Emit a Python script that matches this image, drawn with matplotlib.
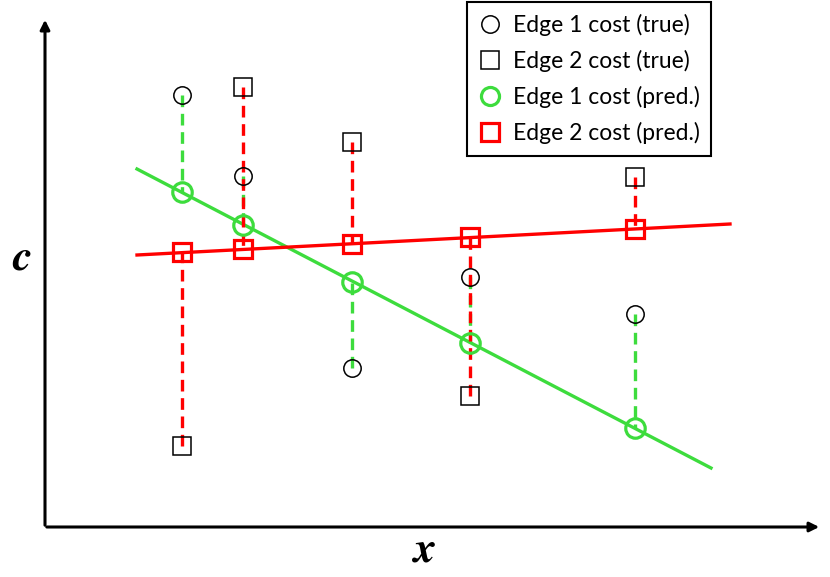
import matplotlib.pyplot as plt
from matplotlib.lines import Line2D

xs = [182, 243, 352, 470, 635]
edge1_true = [482, 401, 209, 300, 263]
edge2_true = [131, 490, 435, 181, 400]
edge1_pred = [385, 352, 295, 234, 149]
edge2_pred = [325, 328, 333, 340, 348]

# fitted lines (end points)
green_x = [137, 711]
green_y = [408, 109]
red_x = [137, 730]
red_y = [322, 353]

green = '#3ddc3d'
red = '#ff0000'

fig = plt.figure(figsize=(8.3, 5.77), dpi=100)
ax = fig.add_axes([0, 0, 1, 1])
ax.set_xlim(0, 830)
ax.set_ylim(0, 577)
ax.axis('off')

# axes arrows
ax.annotate('', xy=(45, 560), xytext=(45, 49),
            arrowprops=dict(arrowstyle='-|>', color='black', lw=2.2, mutation_scale=14))
ax.annotate('', xy=(822, 50), xytext=(44, 50),
            arrowprops=dict(arrowstyle='-|>', color='black', lw=2.2, mutation_scale=14))
ax.text(22, 318, 'c', fontsize=32, ha='center', va='center',
        family='STIXGeneral', style='italic', weight='bold')
ax.text(425, 26, 'x', fontsize=32, ha='center', va='center',
        family='STIXGeneral', style='italic', weight='bold')

# regression lines
ax.plot(green_x, green_y, color=green, lw=2.4, zorder=2)
ax.plot(red_x, red_y, color=red, lw=2.4, zorder=2)

# residual dashes
for x, t, p in zip(xs, edge1_true, edge1_pred):
    ax.plot([x, x], [t, p], color=green, lw=2.4, ls=(0, (3.5, 2)), zorder=3)
for x, t, p in zip(xs, edge2_true, edge2_pred):
    ax.plot([x, x], [t, p], color=red, lw=2.4, ls=(0, (3.5, 2)), zorder=4)

# markers
ax.plot(xs, edge1_true, 'o', ms=12.5, mfc='none', mec='black', mew=1.1, zorder=5)
ax.plot(xs, edge2_true, 's', ms=12.5, mfc='none', mec='black', mew=1.1, zorder=5)
ax.plot(xs, edge1_pred, 'o', ms=14, mfc='none', mec=green, mew=2.3, zorder=6)
ax.plot(xs, edge2_pred, 's', ms=12.5, mfc='none', mec=red, mew=2.3, zorder=6)

handles = [
    Line2D([], [], ls='none', marker='o', ms=12.5, mfc='none', mec='black', mew=1.1),
    Line2D([], [], ls='none', marker='s', ms=12.5, mfc='none', mec='black', mew=1.1),
    Line2D([], [], ls='none', marker='o', ms=13, mfc='none', mec=green, mew=2.3),
    Line2D([], [], ls='none', marker='s', ms=12.5, mfc='none', mec=red, mew=2.3),
]
labels = ['Edge 1 cost (true)', 'Edge 2 cost (true)',
          'Edge 1 cost (pred.)', 'Edge 2 cost (pred.)']
leg = fig.legend(handles, labels, loc='upper right', bbox_to_anchor=(711 / 830, 1 - 2 / 577),
                 prop={'family': 'Lato', 'size': 16.5}, fancybox=False, framealpha=1,
                 edgecolor='black', handletextpad=0.5, handlelength=1.0,
                 borderpad=0.5, labelspacing=0.62, borderaxespad=0)
leg.get_frame().set_linewidth(1.5)

fig.savefig('out.png', dpi=100)
